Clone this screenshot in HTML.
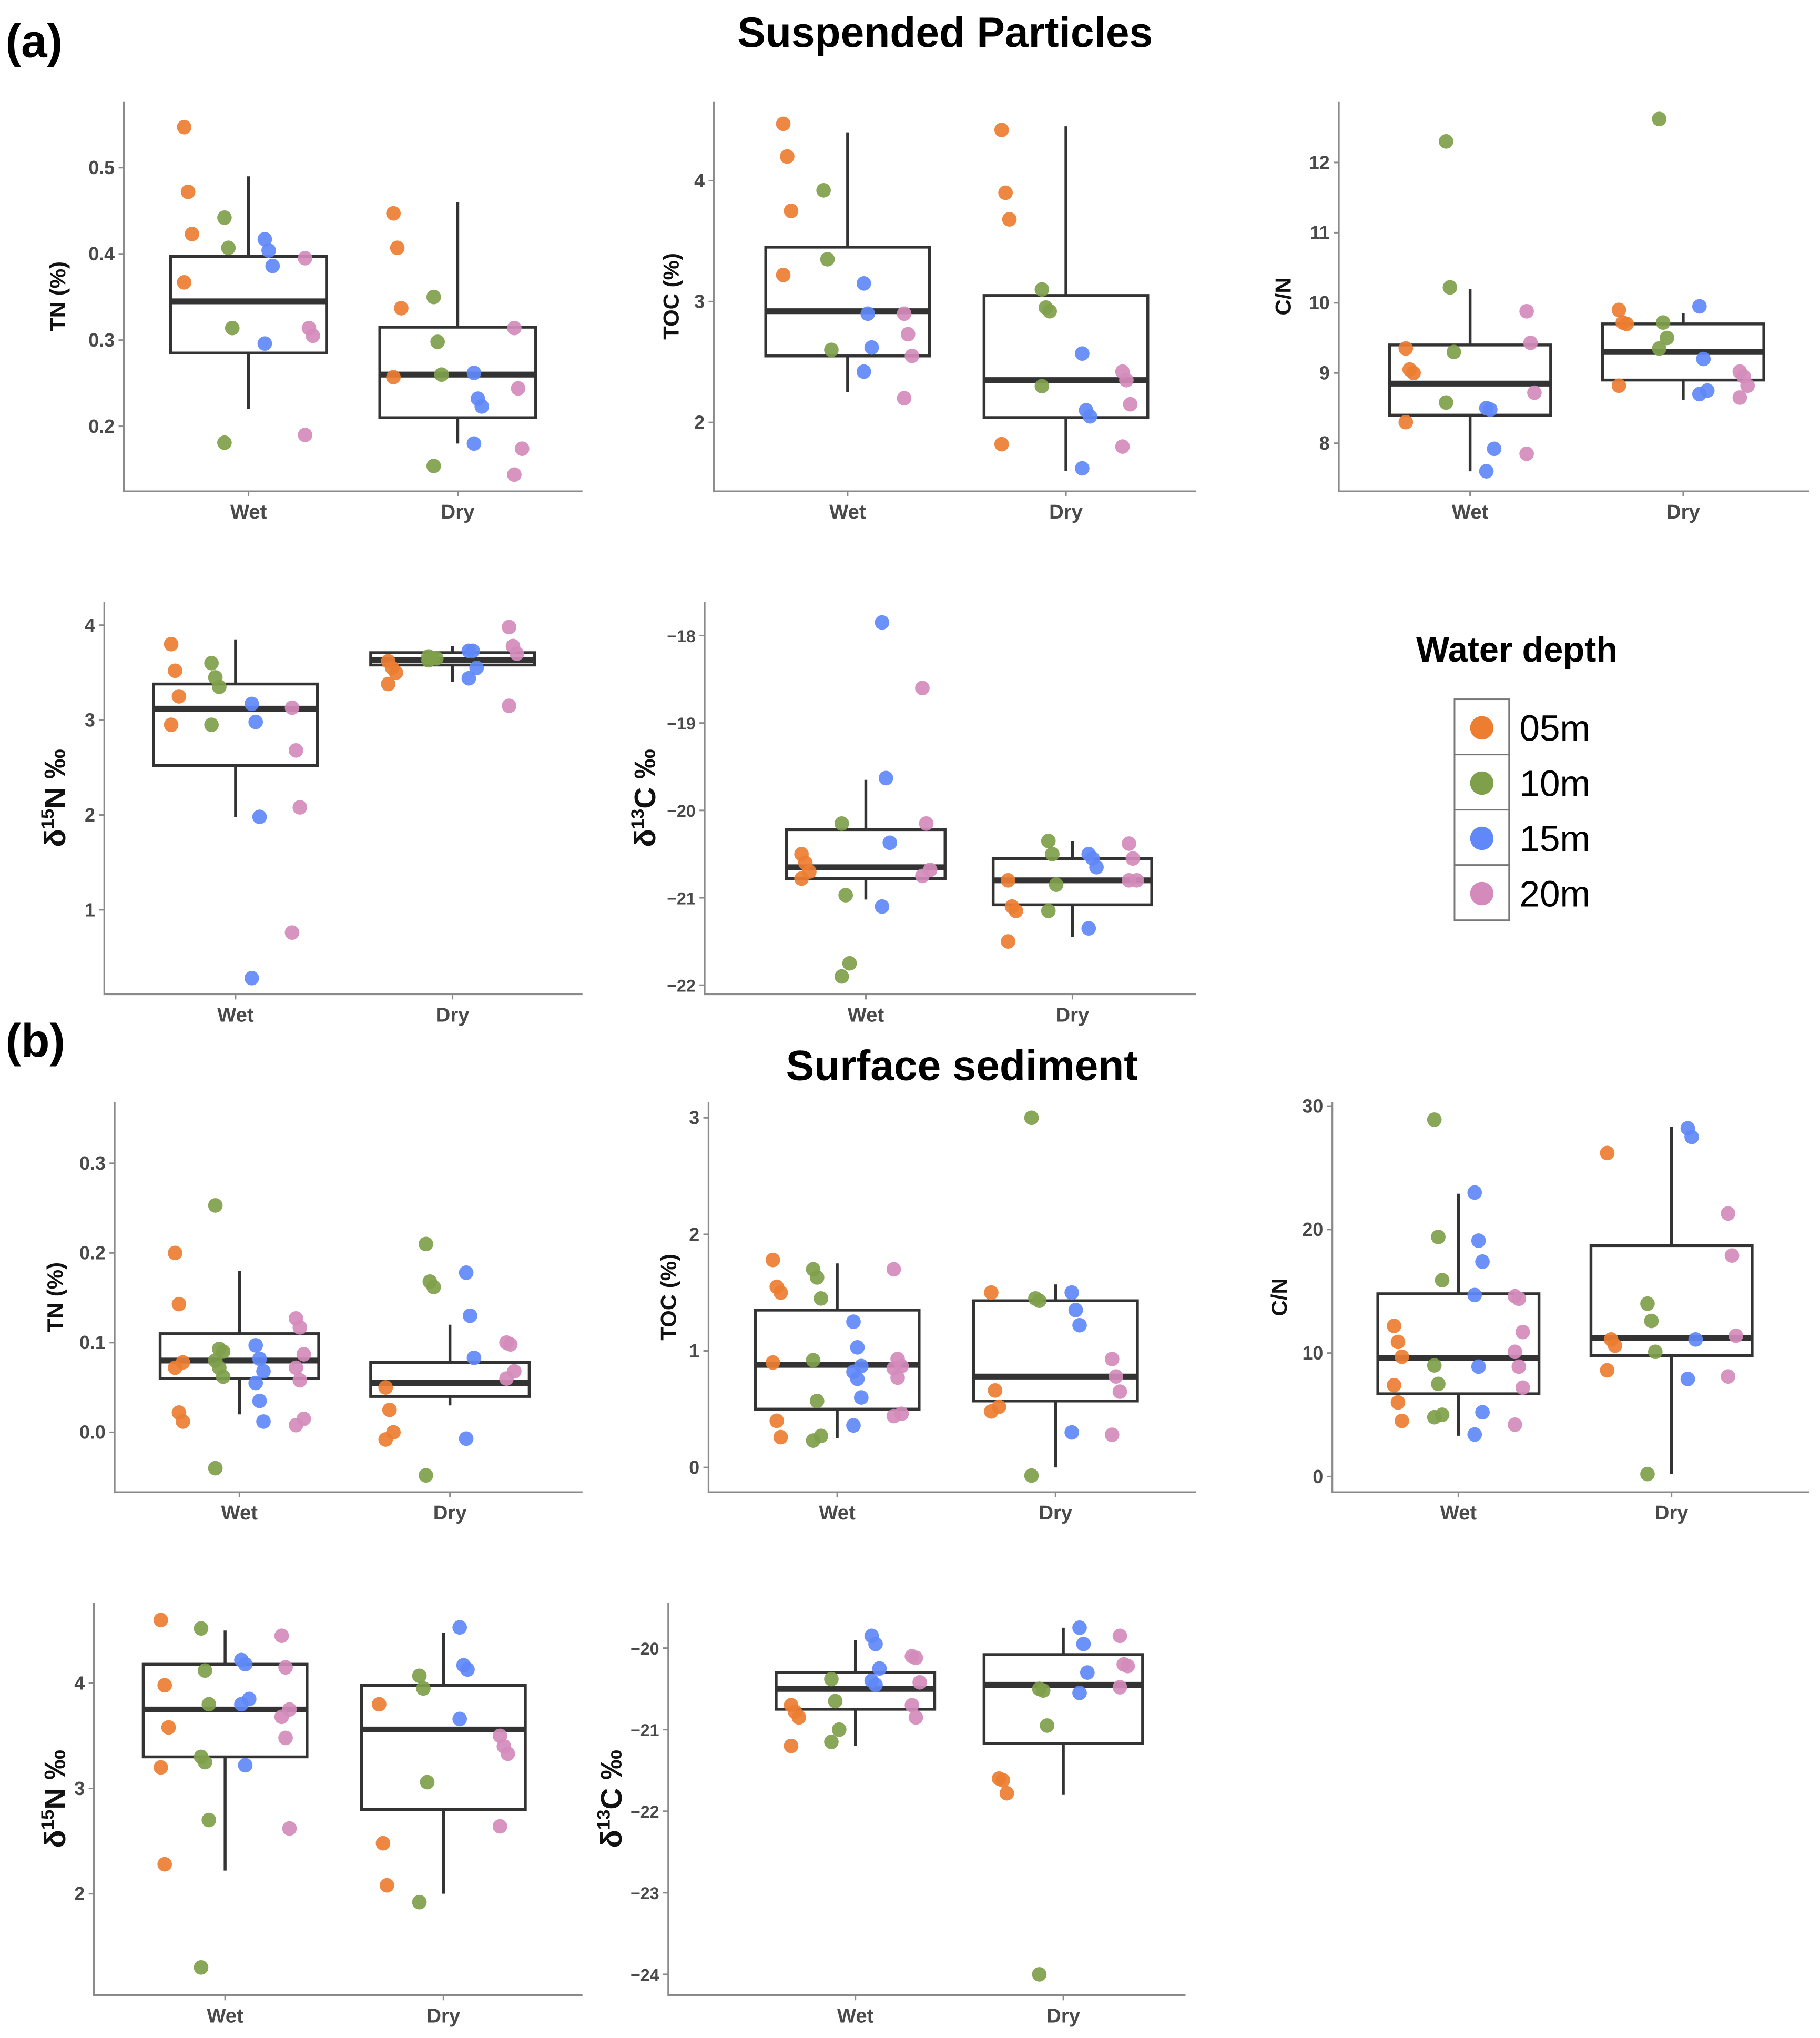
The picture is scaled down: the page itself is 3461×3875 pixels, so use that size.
<!DOCTYPE html>
<html><head><meta charset="utf-8"><style>
html,body{margin:0;padding:0;background:#fff}
svg{display:block}
text{font-family:"Liberation Sans",Arial,sans-serif}
</style></head><body>
<svg id="fig" width="3461" height="3875" viewBox="0 0 1400 1568" xmlns="http://www.w3.org/2000/svg">
<rect width="1400" height="1568" fill="#fff"/>
<text x="4" y="44" font-size="36" font-weight="bold">(a)</text>
<text x="727" y="36" font-size="32.5" font-weight="bold" text-anchor="middle">Suspended Particles</text>
<text x="4" y="813" font-size="36" font-weight="bold">(b)</text>
<text x="740" y="831" font-size="32.5" font-weight="bold" text-anchor="middle">Surface sediment</text>
<g id="legend">
<text x="1167" y="509" font-size="27" font-weight="bold" text-anchor="middle">Water depth</text>
</g>
<g id="plots"></g>
</svg>
<script>
const NS="http://www.w3.org/2000/svg";
const depths=["05m","10m","15m","20m"];
const colors=["#EC7D31","#7F9F4A","#6088F8","#D48BBB"];
const seasons=["Wet","Dry"];

// ---- Panel a1: TN suspended
const a1Ticks=[0.2,0.3,0.4,0.5];
const a1Wet=[[0.547,0.472,0.423,0.367],[0.442,0.407,0.314,0.181],[0.417,0.404,0.386,0.296],[0.395,0.314,0.305,0.19]];
const a1Dry=[[0.447,0.407,0.337,0.257],[0.35,0.298,0.26,0.154],[0.262,0.232,0.223,0.18],[0.314,0.244,0.174,0.144]];
const a1BoxWet=[0.22,0.285,0.345,0.397,0.49];
const a1BoxDry=[0.18,0.21,0.26,0.315,0.46];
// ---- Panel a2: TOC suspended
const a2Ticks=[2,3,4];
const a2Wet=[[4.47,4.2,3.75,3.22],[3.92,3.35,2.6],[3.15,2.9,2.62,2.42],[2.9,2.73,2.55,2.2]];
const a2Dry=[[4.42,3.9,3.68,1.82],[3.1,2.95,2.92,2.3],[2.57,2.1,2.05,1.62],[2.42,2.35,2.15,1.8]];
const a2BoxWet=[2.25,2.55,2.92,3.45,4.4];
const a2BoxDry=[1.6,2.04,2.35,3.05,4.45];
// ---- Panel a3: C/N suspended
const a3Ticks=[8,9,10,11,12];
const a3Wet=[[9.35,9.05,9.0,8.3],[12.3,10.22,9.3,8.58],[8.5,8.48,7.92,7.6],[9.88,9.43,8.72,7.85]];
const a3Dry=[[9.9,9.72,9.7,8.82],[12.62,9.72,9.5,9.35],[9.95,9.2,8.75,8.7],[9.02,8.95,8.82,8.65]];
const a3BoxWet=[7.6,8.4,8.85,9.4,10.2];
const a3BoxDry=[8.62,8.9,9.3,9.7,9.85];
// ---- Panel a4: d15N suspended
const a4Ticks=[1,2,3,4];
const a4Wet=[[3.8,3.52,3.25,2.95],[3.6,3.45,3.35,2.95],[3.17,2.98,1.98,0.28],[3.13,2.68,2.08,0.76]];
const a4Dry=[[3.62,3.55,3.5,3.38],[3.67,3.65,3.65,3.63],[3.73,3.73,3.55,3.44],[3.98,3.78,3.7,3.15]];
const a4BoxWet=[1.98,2.52,3.12,3.38,3.85];
const a4BoxDry=[3.4,3.58,3.63,3.71,3.78];
// ---- Panel a5: d13C suspended
const a5Ticks=[-22,-21,-20,-19,-18];
const a5Wet=[[-20.5,-20.6,-20.7,-20.78],[-20.15,-20.97,-21.75,-21.9],[-17.85,-19.63,-20.37,-21.1],[-18.6,-20.15,-20.68,-20.75]];
const a5Dry=[[-20.8,-21.1,-21.15,-21.5],[-20.35,-20.5,-20.85,-21.15],[-20.5,-20.55,-20.65,-21.35],[-20.38,-20.55,-20.8,-20.8]];
const a5BoxWet=[-21.02,-20.78,-20.65,-20.22,-19.65];
const a5BoxDry=[-21.45,-21.08,-20.8,-20.55,-20.35];
// ---- Panel b1: TN sediment
const b1Ticks=[0.0,0.1,0.2,0.3];
const b1Wet=[[0.2,0.143,0.078,0.072,0.022,0.012],[0.253,0.093,0.09,0.08,0.072,0.062,-0.04],[0.097,0.082,0.068,0.055,0.035,0.012],[0.127,0.117,0.087,0.072,0.058,0.015,0.008]];
const b1Dry=[[0.05,0.025,0.0,-0.008],[0.21,0.168,0.162,-0.048],[0.178,0.13,0.083,-0.007],[0.1,0.098,0.068,0.06]];
const b1BoxWet=[0.02,0.06,0.08,0.11,0.18];
const b1BoxDry=[0.03,0.04,0.055,0.078,0.12];
// ---- Panel b2: TOC sediment
const b2Ticks=[0,1,2,3];
const b2Wet=[[1.78,1.55,1.5,0.9,0.4,0.26],[1.7,1.63,1.45,0.92,0.57,0.27,0.23],[1.25,1.03,0.87,0.82,0.76,0.6,0.36],[1.7,0.93,0.87,0.85,0.77,0.46,0.44]];
const b2Dry=[[1.5,0.66,0.52,0.48],[3.0,1.45,1.43,-0.07],[1.5,1.35,1.22,0.3],[0.93,0.78,0.65,0.28]];
const b2BoxWet=[0.25,0.5,0.88,1.35,1.75];
const b2BoxDry=[0.0,0.57,0.78,1.43,1.57];
// ---- Panel b3: C/N sediment
const b3Ticks=[0,10,20,30];
const b3Wet=[[12.2,10.9,9.7,7.4,6.0,4.5],[28.9,19.4,15.9,9.0,7.5,5.0,4.8],[23.0,19.1,17.4,14.7,8.9,5.2,3.4],[14.6,14.4,11.7,10.1,8.9,7.2,4.2]];
const b3Dry=[[26.2,11.1,10.6,8.6],[14.0,12.6,10.1,0.2],[28.2,27.5,11.1,7.9],[21.3,17.9,11.4,8.1]];
const b3BoxWet=[3.3,6.7,9.6,14.8,22.9];
const b3BoxDry=[0.2,9.8,11.2,18.7,28.3];
// ---- Panel b4: d15N sediment
const b4Ticks=[2,3,4];
const b4Wet=[[4.6,3.98,3.58,3.2,2.28],[4.52,4.12,3.8,3.3,3.25,2.7,1.3],[4.22,4.18,3.85,3.8,3.22],[4.45,4.15,3.75,3.68,3.48,2.62]];
const b4Dry=[[3.8,2.48,2.08],[4.07,3.95,3.06,1.92],[4.53,4.17,4.13,3.66],[3.5,3.4,3.33,2.64]];
const b4BoxWet=[2.22,3.3,3.75,4.18,4.5];
const b4BoxDry=[2.0,2.8,3.56,3.98,4.48];
// ---- Panel b5: d13C sediment
const b5Ticks=[-24,-23,-22,-21,-20];
const b5Wet=[[-20.7,-20.78,-20.85,-21.2],[-20.38,-20.65,-21.0,-21.15],[-19.85,-19.95,-20.25,-20.4,-20.45],[-20.1,-20.12,-20.42,-20.7,-20.85]];
const b5Dry=[[-21.6,-21.62,-21.78],[-20.5,-20.52,-20.95,-24.0],[-19.75,-19.95,-20.3,-20.55],[-19.85,-20.2,-20.22,-20.48]];
const b5BoxWet=[-21.2,-20.75,-20.5,-20.3,-19.9];
const b5BoxDry=[-21.8,-21.17,-20.45,-20.08,-19.75];

function el(tag,attrs,parent,txt){const e=document.createElementNS(NS,tag);for(const k in attrs)e.setAttribute(k,attrs[k]);if(txt!==undefined)e.textContent=txt;parent.appendChild(e);return e;}

const panels=[
 {id:"a-tn",label:"TN (%)",ax:[95,448,78,378],cal:[0.5,129,0.2,328],cx:[191,352],bw:60,ticks:a1Ticks,dec:1,data:[a1Wet,a1Dry],box:[a1BoxWet,a1BoxDry],lx:50,big:false},
 {id:"a-toc",label:"TOC (%)",ax:[549,920,78,378],cal:[4,139,2,325],cx:[652,820],bw:63,ticks:a2Ticks,dec:0,data:[a2Wet,a2Dry],box:[a2BoxWet,a2BoxDry],lx:522,big:false},
 {id:"a-cn",label:"C/N",ax:[1030,1392,78,378],cal:[12,125,8,341],cx:[1131,1295],bw:62,ticks:a3Ticks,dec:0,data:[a3Wet,a3Dry],box:[a3BoxWet,a3BoxDry],lx:993,big:false},
 {id:"a-d15n",label:"N",ax:[80,448,463,765],cal:[4,481,1,700],cx:[181,348],bw:63,ticks:a4Ticks,dec:0,data:[a4Wet,a4Dry],box:[a4BoxWet,a4BoxDry],lx:50,big:"15"},
 {id:"a-d13c",label:"C",ax:[542,920,463,765],cal:[-18,489,-22,758],cx:[666,825],bw:61,ticks:a5Ticks,dec:0,data:[a5Wet,a5Dry],box:[a5BoxWet,a5BoxDry],lx:504,big:"13",minus:true,tfs:13},
 {id:"b-tn",label:"TN (%)",ax:[88,448,848,1148],cal:[0.3,895,0.0,1102],cx:[184,346],bw:61,ticks:b1Ticks,dec:1,data:[b1Wet,b1Dry],box:[b1BoxWet,b1BoxDry],lx:48,big:false},
 {id:"b-toc",label:"TOC (%)",ax:[545,920,848,1148],cal:[3,860,0,1129],cx:[644,812],bw:63,ticks:b2Ticks,dec:0,data:[b2Wet,b2Dry],box:[b2BoxWet,b2BoxDry],lx:520,big:false},
 {id:"b-cn",label:"C/N",ax:[1025,1392,848,1148],cal:[30,851,0,1136],cx:[1122,1286],bw:62,ticks:b3Ticks,dec:0,data:[b3Wet,b3Dry],box:[b3BoxWet,b3BoxDry],lx:990,big:false},
 {id:"b-d15n",label:"N",ax:[72,448,1233,1535],cal:[4,1295,2,1457],cx:[173,341],bw:63,ticks:b4Ticks,dec:0,data:[b4Wet,b4Dry],box:[b4BoxWet,b4BoxDry],lx:50,big:"15"},
 {id:"b-d13c",label:"C",ax:[514,912,1233,1535],cal:[-20,1268,-24,1519],cx:[658,818],bw:61,ticks:b5Ticks,dec:0,data:[b5Wet,b5Dry],box:[b5BoxWet,b5BoxDry],lx:478,big:"13",minus:true,tfs:13}
];

const root=document.getElementById('plots');
panels.forEach(p=>{
  const g=el('g',{},root);
  
  
  const [x0,x1,y0,y1]=p.ax;
  const [v1,p1,v2,p2]=p.cal;
  const y=v=>p1+(v-v1)*(p2-p1)/(v2-v1);
  const axes=el('path',{d:`M${x0},${y0}V${y1}H${x1}`,fill:"none",stroke:"#8a8a8a","stroke-width":1.3},g);
  
  
  p.ticks.forEach(t=>{
    const ty=y(t);
    el('line',{x1:x0-4,x2:x0,y1:ty,y2:ty,stroke:"#8a8a8a","stroke-width":1.2},g);
    let s=p.dec?t.toFixed(p.dec):String(t);
    if(p.minus)s=s.replace('-','\u2212');
    const tl=el('text',{x:x0-7,y:ty+5,"font-size":p.tfs||14.5,"font-weight":"bold",fill:"#4a4a4a","text-anchor":"end"},g,s);
    
    
  });
  seasons.forEach((s,si)=>{
    const cx=p.cx[si];
    el('line',{x1:cx,x2:cx,y1:y1,y2:y1+4,stroke:"#8a8a8a","stroke-width":1.2},g);
    const xl=el('text',{x:cx,y:y1+21,"font-size":15.5,"font-weight":"bold",fill:"#4a4a4a","text-anchor":"middle"},g,s);
    
    
    const b=p.box[si];
    const bg=el('g',{},g);
    
    
    el('line',{x1:cx,x2:cx,y1:y(b[0]),y2:y(b[1]),stroke:"#333","stroke-width":2.2},bg);
    el('line',{x1:cx,x2:cx,y1:y(b[3]),y2:y(b[4]),stroke:"#333","stroke-width":2.2},bg);
    el('rect',{x:cx-p.bw,y:y(b[3]),width:2*p.bw,height:y(b[1])-y(b[3]),fill:"none",stroke:"#333","stroke-width":2.2},bg);
    el('line',{x1:cx-p.bw,x2:cx+p.bw,y1:y(b[2]),y2:y(b[2]),stroke:"#333","stroke-width":4.5},bg);
    p.data[si].forEach((arr,di)=>{
      arr.forEach((v,i)=>{
        const jx=cx+(di-1.5)*31+((i%3)-1)*3;
        const c=el('circle',{cx:jx,cy:y(v),r:5.6,fill:colors[di],"fill-opacity":0.92},g);
        
        
      });
    });
  });
  const cy=(y0+y1)/2;
  const t=el('text',{transform:`translate(${p.lx},${cy}) rotate(-90)`,"text-anchor":"middle","font-weight":"bold",fill:"#111"},g);
  
  
  if(p.big){
    t.setAttribute('font-size',23);
    el('tspan',{},t,'\u03B4');
    el('tspan',{"font-size":14,dy:-9},t,p.big);
    el('tspan',{dy:9},t,p.label+' \u2030');
  }else{
    t.setAttribute('font-size',17);
    t.textContent=p.label;
  }
});

const lg=document.getElementById('legend');
el('rect',{x:1119,y:538,width:42,height:170,fill:"#fff",stroke:"#777","stroke-width":1.2},lg);
depths.forEach((d,i)=>{
  const cy=560+i*42.5;
  if(i>0)el('line',{x1:1119,x2:1161,y1:538+i*42.5,y2:538+i*42.5,stroke:"#777","stroke-width":1.2},lg);
  const c=el('circle',{cx:1140,cy:cy,r:9,fill:colors[i]},lg);
  
  
  const t=el('text',{x:1169,y:cy+10,"font-size":28},lg,d);
  
  
});
</script>
</body></html>
